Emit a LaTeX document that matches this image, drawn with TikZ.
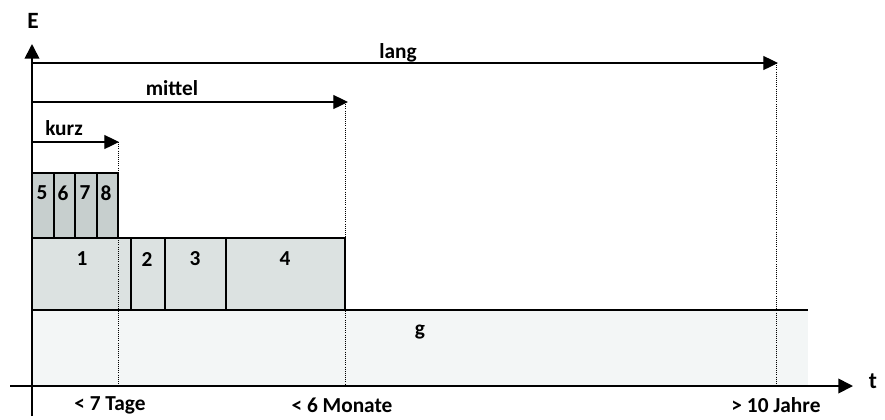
\documentclass[tikz,border=0pt]{standalone}
\usepackage{fontspec}
\setmainfont{Carlito}
\usetikzlibrary{arrows.meta}
\definecolor{boxdark}{HTML}{C7CFCE}
\definecolor{boxmid}{HTML}{DCE2E1}
\definecolor{boxlight}{HTML}{F3F6F6}
\tikzset{
  lbl/.style={font=\bfseries\fontsize{16pt}{18pt}\selectfont, inner sep=0pt},
  biglbl/.style={font=\bfseries\fontsize{17.5pt}{20pt}\selectfont, inner sep=0pt},
  axis/.style={line width=1.3pt, -{Triangle[length=11pt,width=11pt]}},
  rangearrow/.style={line width=0.9pt, -{Triangle[length=11pt,width=10.5pt]}},
  guide/.style={densely dotted, line width=0.6pt},
  darkcell/.style={fill=boxdark, draw=black, line width=0.9pt},
  midcell/.style={fill=boxmid, draw=black, line width=0.9pt},
}
\begin{document}
\begin{tikzpicture}[x=0.75pt,y=-0.75pt]
\useasboundingbox (0,0) rectangle (885,419);
% g region
\fill[boxlight] (32,310) rectangle (808,386);
% boxes 1-4
\path[midcell] (32,238) rectangle (131,310);
\path[midcell] (131,238) rectangle (165,310);
\path[midcell] (165,238) rectangle (226,310);
\path[midcell] (226,238) rectangle (345,310);
% boxes 5-8
\path[darkcell] (32,173) rectangle (54,238);
\path[darkcell] (54,173) rectangle (75,238);
\path[darkcell] (75,173) rectangle (97,238);
\path[darkcell] (97,173) rectangle (118,238);
\draw[line width=0.9pt] (32,310) -- (808,310);
% labels in boxes
\node[lbl] (b1) at (82,259) {1};
\node[lbl] (b2) at (147,259) {2};
\node[lbl] (b3) at (195,259) {3};
\node[lbl] (b4) at (285,259) {4};
\node[lbl] (b5) at (42,193) {5};
\node[lbl] (b6) at (63,193) {6};
\node[lbl] (b7) at (85,193) {7};
\node[lbl] (b8) at (106,193) {8};
\node[lbl] (g) at (420,332) {g};
% coordinates
\coordinate (ybot) at (32,416);
\coordinate (ytop) at (32,44);
\coordinate (xleft) at (10,386);
\coordinate (xright) at (853,386);
\coordinate (kurzS) at (32,142);
\coordinate (kurzE) at (119,142);
\coordinate (mittelS) at (32,102);
\coordinate (mittelE) at (348,102);
\coordinate (langS) at (32,63);
\coordinate (langE) at (778,63);
\coordinate (d1t) at (118,142);
\coordinate (d1b) at (118,386);
\coordinate (d2t) at (345,102);
\coordinate (d2b) at (345,386);
\coordinate (d3t) at (776,63);
\coordinate (d3b) at (776,386);
% guides
\draw[guide] (d1t) -- (d1b);
\draw[guide] (d2t) -- (d2b);
\draw[guide] (d3t) -- (d3b);
% range arrows
\draw[rangearrow] (kurzS) -- (kurzE);
\draw[rangearrow] (mittelS) -- (mittelE);
\draw[rangearrow] (langS) -- (langE);
\node[lbl] (kurz) at (64,128) {kurz};
\node[lbl] (mittel) at (172,88) {mittel};
\node[lbl] (lang) at (398,53) {lang};
% axes
\draw[axis] (ybot) -- (ytop);
\draw[axis] (xleft) -- (xright);
\node[biglbl] (E) at (33,21) {E};
\node[biglbl] (t) at (873,381) {t};
\node[lbl] (tage) at (110,405) {< 7 Tage};
\node[lbl] (monate) at (342,405) {< 6 Monate};
\node[lbl] (jahre) at (776,405) {> 10 Jahre};
\end{tikzpicture}
\end{document}
